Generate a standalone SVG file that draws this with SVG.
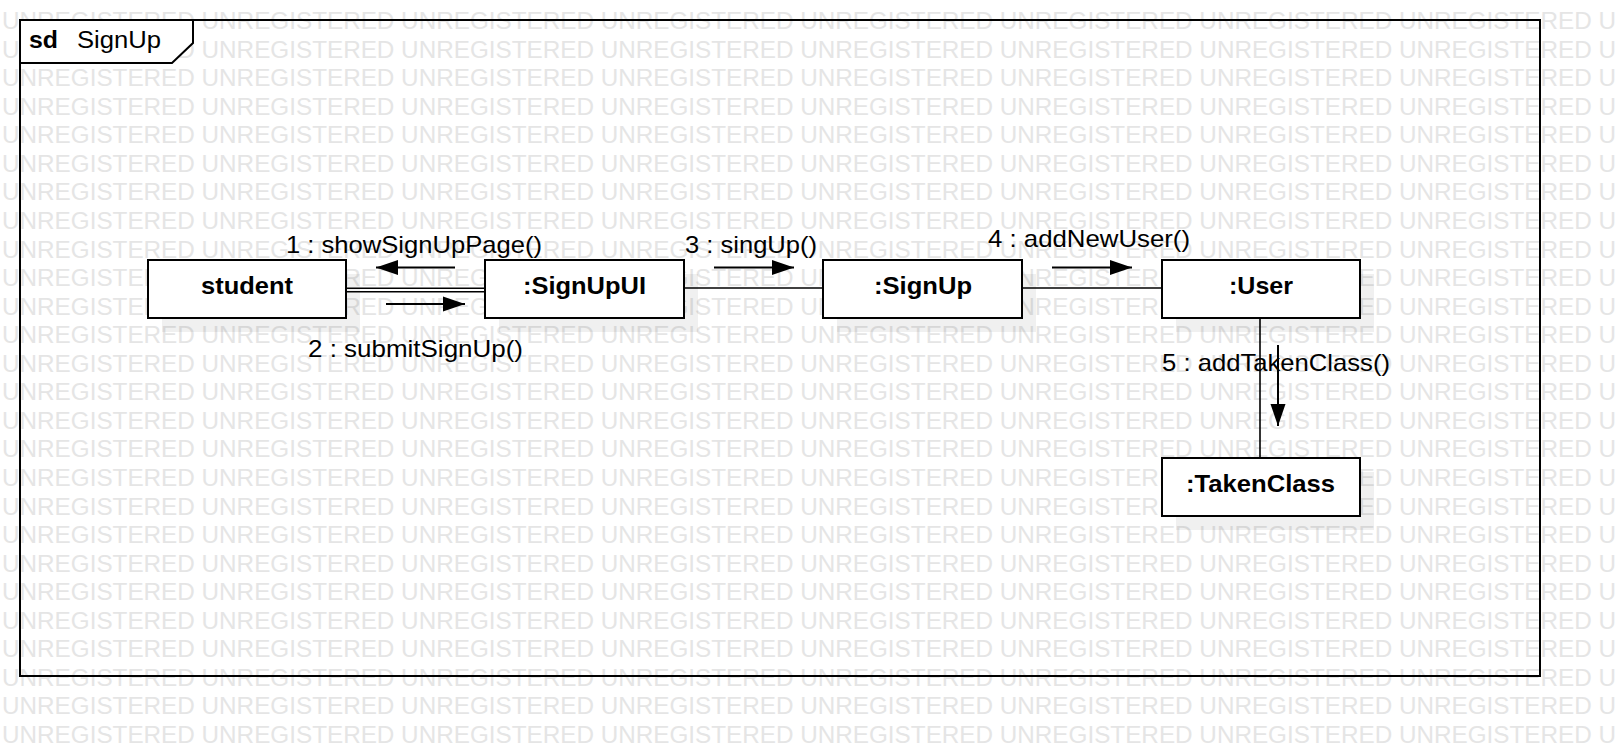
<svg xmlns="http://www.w3.org/2000/svg" width="1620" height="756" viewBox="0 0 1620 756">
<style>
.wm{font-family:"Liberation Sans",Arial,sans-serif;font-size:23px;fill:#e5e5e5}
.box{fill:#ffffff;stroke:#000000;stroke-width:2}
.shadow{fill:#000000;fill-opacity:0.06;stroke:none}
.name{font-family:"Liberation Sans",Arial,sans-serif;font-size:24px;font-weight:bold;fill:#000000}
.lbl{font-family:"Liberation Sans",Arial,sans-serif;font-size:24px;fill:#000000}
.conn{stroke:#000000;stroke-width:1.6;fill:none}
.msg{stroke:#000000;stroke-width:2;fill:none;marker-end:url(#ah)}
</style>
<defs>
<marker id="ah" markerUnits="userSpaceOnUse" markerWidth="22" markerHeight="16" refX="22" refY="7.5" orient="auto" overflow="visible">
<path d="M0,0 L22,7.5 L0,15 Z" fill="#000000"/>
</marker>
</defs>
<rect x="0" y="0" width="1620" height="756" fill="#ffffff"/>
<g id="watermark">
<text class="wm" x="2" y="29" textLength="1614" lengthAdjust="spacingAndGlyphs">UNREGISTERED UNREGISTERED UNREGISTERED UNREGISTERED UNREGISTERED UNREGISTERED UNREGISTERED UNREGISTERED U</text>
<text class="wm" x="2" y="57.6" textLength="1614" lengthAdjust="spacingAndGlyphs">UNREGISTERED UNREGISTERED UNREGISTERED UNREGISTERED UNREGISTERED UNREGISTERED UNREGISTERED UNREGISTERED U</text>
<text class="wm" x="2" y="86.1" textLength="1614" lengthAdjust="spacingAndGlyphs">UNREGISTERED UNREGISTERED UNREGISTERED UNREGISTERED UNREGISTERED UNREGISTERED UNREGISTERED UNREGISTERED U</text>
<text class="wm" x="2" y="114.7" textLength="1614" lengthAdjust="spacingAndGlyphs">UNREGISTERED UNREGISTERED UNREGISTERED UNREGISTERED UNREGISTERED UNREGISTERED UNREGISTERED UNREGISTERED U</text>
<text class="wm" x="2" y="143.2" textLength="1614" lengthAdjust="spacingAndGlyphs">UNREGISTERED UNREGISTERED UNREGISTERED UNREGISTERED UNREGISTERED UNREGISTERED UNREGISTERED UNREGISTERED U</text>
<text class="wm" x="2" y="171.8" textLength="1614" lengthAdjust="spacingAndGlyphs">UNREGISTERED UNREGISTERED UNREGISTERED UNREGISTERED UNREGISTERED UNREGISTERED UNREGISTERED UNREGISTERED U</text>
<text class="wm" x="2" y="200.4" textLength="1614" lengthAdjust="spacingAndGlyphs">UNREGISTERED UNREGISTERED UNREGISTERED UNREGISTERED UNREGISTERED UNREGISTERED UNREGISTERED UNREGISTERED U</text>
<text class="wm" x="2" y="228.9" textLength="1614" lengthAdjust="spacingAndGlyphs">UNREGISTERED UNREGISTERED UNREGISTERED UNREGISTERED UNREGISTERED UNREGISTERED UNREGISTERED UNREGISTERED U</text>
<text class="wm" x="2" y="257.5" textLength="1614" lengthAdjust="spacingAndGlyphs">UNREGISTERED UNREGISTERED UNREGISTERED UNREGISTERED UNREGISTERED UNREGISTERED UNREGISTERED UNREGISTERED U</text>
<text class="wm" x="2" y="286" textLength="1614" lengthAdjust="spacingAndGlyphs">UNREGISTERED UNREGISTERED UNREGISTERED UNREGISTERED UNREGISTERED UNREGISTERED UNREGISTERED UNREGISTERED U</text>
<text class="wm" x="2" y="314.6" textLength="1614" lengthAdjust="spacingAndGlyphs">UNREGISTERED UNREGISTERED UNREGISTERED UNREGISTERED UNREGISTERED UNREGISTERED UNREGISTERED UNREGISTERED U</text>
<text class="wm" x="2" y="343.2" textLength="1614" lengthAdjust="spacingAndGlyphs">UNREGISTERED UNREGISTERED UNREGISTERED UNREGISTERED UNREGISTERED UNREGISTERED UNREGISTERED UNREGISTERED U</text>
<text class="wm" x="2" y="371.7" textLength="1614" lengthAdjust="spacingAndGlyphs">UNREGISTERED UNREGISTERED UNREGISTERED UNREGISTERED UNREGISTERED UNREGISTERED UNREGISTERED UNREGISTERED U</text>
<text class="wm" x="2" y="400.3" textLength="1614" lengthAdjust="spacingAndGlyphs">UNREGISTERED UNREGISTERED UNREGISTERED UNREGISTERED UNREGISTERED UNREGISTERED UNREGISTERED UNREGISTERED U</text>
<text class="wm" x="2" y="428.8" textLength="1614" lengthAdjust="spacingAndGlyphs">UNREGISTERED UNREGISTERED UNREGISTERED UNREGISTERED UNREGISTERED UNREGISTERED UNREGISTERED UNREGISTERED U</text>
<text class="wm" x="2" y="457.4" textLength="1614" lengthAdjust="spacingAndGlyphs">UNREGISTERED UNREGISTERED UNREGISTERED UNREGISTERED UNREGISTERED UNREGISTERED UNREGISTERED UNREGISTERED U</text>
<text class="wm" x="2" y="486" textLength="1614" lengthAdjust="spacingAndGlyphs">UNREGISTERED UNREGISTERED UNREGISTERED UNREGISTERED UNREGISTERED UNREGISTERED UNREGISTERED UNREGISTERED U</text>
<text class="wm" x="2" y="514.5" textLength="1614" lengthAdjust="spacingAndGlyphs">UNREGISTERED UNREGISTERED UNREGISTERED UNREGISTERED UNREGISTERED UNREGISTERED UNREGISTERED UNREGISTERED U</text>
<text class="wm" x="2" y="543.1" textLength="1614" lengthAdjust="spacingAndGlyphs">UNREGISTERED UNREGISTERED UNREGISTERED UNREGISTERED UNREGISTERED UNREGISTERED UNREGISTERED UNREGISTERED U</text>
<text class="wm" x="2" y="571.6" textLength="1614" lengthAdjust="spacingAndGlyphs">UNREGISTERED UNREGISTERED UNREGISTERED UNREGISTERED UNREGISTERED UNREGISTERED UNREGISTERED UNREGISTERED U</text>
<text class="wm" x="2" y="600.2" textLength="1614" lengthAdjust="spacingAndGlyphs">UNREGISTERED UNREGISTERED UNREGISTERED UNREGISTERED UNREGISTERED UNREGISTERED UNREGISTERED UNREGISTERED U</text>
<text class="wm" x="2" y="628.8" textLength="1614" lengthAdjust="spacingAndGlyphs">UNREGISTERED UNREGISTERED UNREGISTERED UNREGISTERED UNREGISTERED UNREGISTERED UNREGISTERED UNREGISTERED U</text>
<text class="wm" x="2" y="657.3" textLength="1614" lengthAdjust="spacingAndGlyphs">UNREGISTERED UNREGISTERED UNREGISTERED UNREGISTERED UNREGISTERED UNREGISTERED UNREGISTERED UNREGISTERED U</text>
<text class="wm" x="2" y="685.9" textLength="1614" lengthAdjust="spacingAndGlyphs">UNREGISTERED UNREGISTERED UNREGISTERED UNREGISTERED UNREGISTERED UNREGISTERED UNREGISTERED UNREGISTERED U</text>
<text class="wm" x="2" y="714.4" textLength="1614" lengthAdjust="spacingAndGlyphs">UNREGISTERED UNREGISTERED UNREGISTERED UNREGISTERED UNREGISTERED UNREGISTERED UNREGISTERED UNREGISTERED U</text>
<text class="wm" x="2" y="743" textLength="1614" lengthAdjust="spacingAndGlyphs">UNREGISTERED UNREGISTERED UNREGISTERED UNREGISTERED UNREGISTERED UNREGISTERED UNREGISTERED UNREGISTERED U</text>
</g>
<g id="frame">
<rect x="20" y="20" width="1520" height="656" fill="none" stroke="#000000" stroke-width="2"/>
<path d="M20,20 L193,20 L193,43 L172,63 L20,63 Z" fill="#ffffff" stroke="#000000" stroke-width="2"/>
<text x="29" y="48" font-family="'Liberation Sans',Arial,sans-serif" font-size="23" font-weight="bold" textLength="29" lengthAdjust="spacingAndGlyphs">sd</text>
<text x="77" y="48" font-family="'Liberation Sans',Arial,sans-serif" font-size="23" textLength="84" lengthAdjust="spacingAndGlyphs">SignUp</text>
</g>
<g id="shadows">
<rect class="shadow" x="162" y="274" width="198" height="58"/>
<rect class="shadow" x="499" y="274" width="199" height="58"/>
<rect class="shadow" x="837" y="274" width="199" height="58"/>
<rect class="shadow" x="1176" y="274" width="198" height="58"/>
<rect class="shadow" x="1176" y="472" width="198" height="58"/>
</g>
<g id="connectors">
<line class="conn" x1="346" y1="288.3" x2="485" y2="288.3" stroke-width="1.4"/>
<line class="conn" x1="346" y1="291.8" x2="485" y2="291.8" stroke-width="1.4"/>
<line class="conn" x1="684" y1="288" x2="823" y2="288"/>
<line class="conn" x1="1022" y1="288" x2="1162" y2="288"/>
<line class="conn" x1="1260" y1="318" x2="1260" y2="458"/>
<line class="msg" x1="455" y1="267.5" x2="376" y2="267.5"/>
<line class="msg" x1="386" y1="304" x2="465" y2="304"/>
<line class="msg" x1="714" y1="267.5" x2="794" y2="267.5"/>
<line class="msg" x1="1052" y1="267.5" x2="1132" y2="267.5"/>
<line class="msg" x1="1278" y1="345" x2="1278" y2="426"/>
<text class="lbl" x="286" y="253" textLength="256" lengthAdjust="spacingAndGlyphs">1 : showSignUpPage()</text>
<text class="lbl" x="308" y="357" textLength="215" lengthAdjust="spacingAndGlyphs">2 : submitSignUp()</text>
<text class="lbl" x="685" y="253" textLength="132" lengthAdjust="spacingAndGlyphs">3 : singUp()</text>
<text class="lbl" x="988" y="247" textLength="202" lengthAdjust="spacingAndGlyphs">4 : addNewUser()</text>
<text class="lbl" x="1162" y="371" textLength="228" lengthAdjust="spacingAndGlyphs">5 : addTakenClass()</text>
</g>
<g id="node-student">
<rect class="box" x="148" y="260" width="198" height="58"/>
<text class="name" x="201" y="294" textLength="92" lengthAdjust="spacingAndGlyphs">student</text>
</g>
<g id="node-signupui">
<rect class="box" x="485" y="260" width="199" height="58"/>
<text class="name" x="523" y="294" textLength="123" lengthAdjust="spacingAndGlyphs">:SignUpUI</text>
</g>
<g id="node-signup">
<rect class="box" x="823" y="260" width="199" height="58"/>
<text class="name" x="874" y="294" textLength="98" lengthAdjust="spacingAndGlyphs">:SignUp</text>
</g>
<g id="node-user">
<rect class="box" x="1162" y="260" width="198" height="58"/>
<text class="name" x="1229" y="294" textLength="64" lengthAdjust="spacingAndGlyphs">:User</text>
</g>
<g id="node-takenclass">
<rect class="box" x="1162" y="458" width="198" height="58"/>
<text class="name" x="1186" y="492" textLength="149" lengthAdjust="spacingAndGlyphs">:TakenClass</text>
</g>
</svg>
